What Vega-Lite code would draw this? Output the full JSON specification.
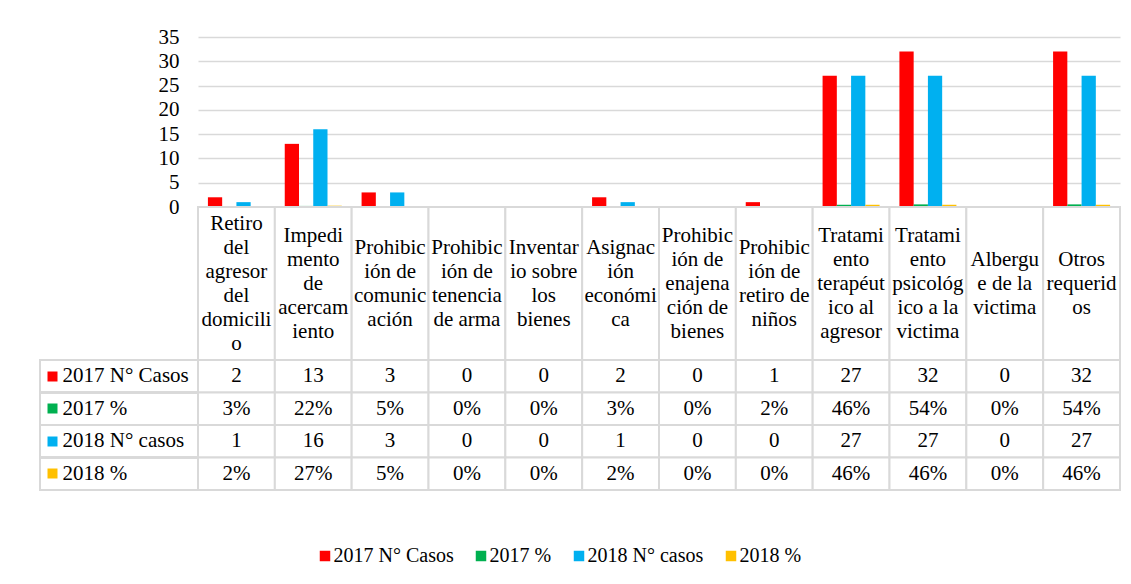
{
  "$schema": "https://vega.github.io/schema/vega-lite/v6.json",
  "padding": {"left": 39, "top": 26, "right": 5, "bottom": 5},
  "background": "white",
  "config": {
    "font": "Liberation Serif",
    "view": {"stroke": null},
    "axis": {"labelFont": "Liberation Serif"},
    "text": {"font": "Liberation Serif"},
    "legend": {"labelFont": "Liberation Serif", "labelFontSize": 20, "labelColor": "#000000"}
  },
  "datasets": {
    "datos": [
      {"categoria": "Retiro del agresor del domicilio", "serie": "2017 N° Casos", "valor": 2},
      {"categoria": "Impedimento de acercamiento", "serie": "2017 N° Casos", "valor": 13},
      {"categoria": "Prohibición de comunicación", "serie": "2017 N° Casos", "valor": 3},
      {"categoria": "Prohibición de tenencia de arma", "serie": "2017 N° Casos", "valor": 0},
      {"categoria": "Inventario sobre los bienes", "serie": "2017 N° Casos", "valor": 0},
      {"categoria": "Asignación económica", "serie": "2017 N° Casos", "valor": 2},
      {"categoria": "Prohibición de enajenación de bienes", "serie": "2017 N° Casos", "valor": 0},
      {"categoria": "Prohibición de retiro de niños", "serie": "2017 N° Casos", "valor": 1},
      {"categoria": "Tratamiento terapéutico al agresor", "serie": "2017 N° Casos", "valor": 27},
      {"categoria": "Tratamiento psicológico a la victima", "serie": "2017 N° Casos", "valor": 32},
      {"categoria": "Albergue de la victima", "serie": "2017 N° Casos", "valor": 0},
      {"categoria": "Otros requeridos", "serie": "2017 N° Casos", "valor": 32},
      {"categoria": "Retiro del agresor del domicilio", "serie": "2017 %", "valor": 0.03},
      {"categoria": "Impedimento de acercamiento", "serie": "2017 %", "valor": 0.22},
      {"categoria": "Prohibición de comunicación", "serie": "2017 %", "valor": 0.05},
      {"categoria": "Prohibición de tenencia de arma", "serie": "2017 %", "valor": 0},
      {"categoria": "Inventario sobre los bienes", "serie": "2017 %", "valor": 0},
      {"categoria": "Asignación económica", "serie": "2017 %", "valor": 0.03},
      {"categoria": "Prohibición de enajenación de bienes", "serie": "2017 %", "valor": 0},
      {"categoria": "Prohibición de retiro de niños", "serie": "2017 %", "valor": 0.02},
      {"categoria": "Tratamiento terapéutico al agresor", "serie": "2017 %", "valor": 0.46},
      {"categoria": "Tratamiento psicológico a la victima", "serie": "2017 %", "valor": 0.54},
      {"categoria": "Albergue de la victima", "serie": "2017 %", "valor": 0},
      {"categoria": "Otros requeridos", "serie": "2017 %", "valor": 0.54},
      {"categoria": "Retiro del agresor del domicilio", "serie": "2018 N° casos", "valor": 1},
      {"categoria": "Impedimento de acercamiento", "serie": "2018 N° casos", "valor": 16},
      {"categoria": "Prohibición de comunicación", "serie": "2018 N° casos", "valor": 3},
      {"categoria": "Prohibición de tenencia de arma", "serie": "2018 N° casos", "valor": 0},
      {"categoria": "Inventario sobre los bienes", "serie": "2018 N° casos", "valor": 0},
      {"categoria": "Asignación económica", "serie": "2018 N° casos", "valor": 1},
      {"categoria": "Prohibición de enajenación de bienes", "serie": "2018 N° casos", "valor": 0},
      {"categoria": "Prohibición de retiro de niños", "serie": "2018 N° casos", "valor": 0},
      {"categoria": "Tratamiento terapéutico al agresor", "serie": "2018 N° casos", "valor": 27},
      {"categoria": "Tratamiento psicológico a la victima", "serie": "2018 N° casos", "valor": 27},
      {"categoria": "Albergue de la victima", "serie": "2018 N° casos", "valor": 0},
      {"categoria": "Otros requeridos", "serie": "2018 N° casos", "valor": 27},
      {"categoria": "Retiro del agresor del domicilio", "serie": "2018 %", "valor": 0.02},
      {"categoria": "Impedimento de acercamiento", "serie": "2018 %", "valor": 0.27},
      {"categoria": "Prohibición de comunicación", "serie": "2018 %", "valor": 0.05},
      {"categoria": "Prohibición de tenencia de arma", "serie": "2018 %", "valor": 0},
      {"categoria": "Inventario sobre los bienes", "serie": "2018 %", "valor": 0},
      {"categoria": "Asignación económica", "serie": "2018 %", "valor": 0.02},
      {"categoria": "Prohibición de enajenación de bienes", "serie": "2018 %", "valor": 0},
      {"categoria": "Prohibición de retiro de niños", "serie": "2018 %", "valor": 0},
      {"categoria": "Tratamiento terapéutico al agresor", "serie": "2018 %", "valor": 0.46},
      {"categoria": "Tratamiento psicológico a la victima", "serie": "2018 %", "valor": 0.46},
      {"categoria": "Albergue de la victima", "serie": "2018 %", "valor": 0},
      {"categoria": "Otros requeridos", "serie": "2018 %", "valor": 0.46}
    ],
    "rotulos": [
      {"categoria": "Retiro del agresor del domicilio", "rotulo": "Retiro\ndel\nagresor\ndel\ndomicili\no"},
      {"categoria": "Impedimento de acercamiento", "rotulo": "Impedi\nmento\nde\nacercam\niento"},
      {"categoria": "Prohibición de comunicación", "rotulo": "Prohibic\nión de\ncomunic\nación"},
      {"categoria": "Prohibición de tenencia de arma", "rotulo": "Prohibic\nión de\ntenencia\nde arma"},
      {"categoria": "Inventario sobre los bienes", "rotulo": "Inventar\nio sobre\nlos\nbienes"},
      {"categoria": "Asignación económica", "rotulo": "Asignac\nión\neconómi\nca"},
      {"categoria": "Prohibición de enajenación de bienes", "rotulo": "Prohibic\nión de\nenajena\nción de\nbienes"},
      {"categoria": "Prohibición de retiro de niños", "rotulo": "Prohibic\nión de\nretiro de\nniños"},
      {"categoria": "Tratamiento terapéutico al agresor", "rotulo": "Tratami\nento\nterapéut\nico al\nagresor"},
      {"categoria": "Tratamiento psicológico a la victima", "rotulo": "Tratami\nento\npsicológ\nico a la\nvictima"},
      {"categoria": "Albergue de la victima", "rotulo": "Albergu\ne de la\nvictima"},
      {"categoria": "Otros requeridos", "rotulo": "Otros\nrequerid\nos"}
    ]
  },
  "columns": 2,
  "spacing": 0,
  "bounds": "flush",
  "align": "each",
  "resolve": {"scale": {"x": "independent", "y": "independent", "color": "shared"}},
  "concat": [
    {
      "width": 158, "height": 170,
      "data": {"values": []},
      "mark": "point"
    },
    {
      "width": 922, "height": 170,
      "data": {"name": "datos"},
      "mark": {"type": "bar"},
      "encoding": {
        "x": {"field": "categoria", "type": "nominal", "sort": null,
              "scale": {"paddingInner": 0.258, "paddingOuter": 0.129}, "axis": null},
        "xOffset": {"field": "serie", "type": "nominal", "sort": null},
        "y": {"field": "valor", "type": "quantitative",
              "scale": {"domain": [0, 35], "nice": false},
              "axis": {"values": [0, 5, 10, 15, 20, 25, 30, 35], "title": null, "domain": false, "ticks": false,
                       "labelPadding": 19, "labelFontSize": 21, "labelColor": "#000000",
                       "gridColor": "#d9d9d9", "gridWidth": 1.5}},
        "color": {"field": "serie", "type": "nominal", "sort": null,
                  "scale": {"domain": ["2017 N° Casos", "2017 %", "2018 N° casos", "2018 %"],
                            "range": ["#FF0000", "#00B050", "#00B0F0", "#FFC000"]},
                  "legend": {"orient": "none", "legendX": 275, "legendY": 509, "direction": "horizontal", "title": null,
                             "symbolType": "square", "symbolSize": 110, "symbolStrokeWidth": 0,
                             "columnPadding": 17, "labelOffset": -1.5}}
      }
    },
    {
      "width": 158, "height": 153,
      "data": {"values": []},
      "mark": "point"
    },
    {
      "width": 922, "height": 153,
      "data": {"name": "rotulos"},
      "layer": [
        {
          "mark": {"type": "rect", "fill": "white", "stroke": "#d9d9d9", "strokeWidth": 2},
          "encoding": {
            "x": {"field": "categoria", "type": "nominal", "sort": null,
                  "scale": {"paddingInner": 0, "paddingOuter": 0}, "axis": null}
          }
        },
        {
          "mark": {"type": "text", "fontSize": 21, "lineBreak": "\n", "lineHeight": 24,
                   "baseline": "middle", "align": "center", "color": "#000000",
                   "dy": {"expr": "-(length(split(datum.rotulo, '\\n')) - 1) * 12"}},
          "encoding": {
            "x": {"field": "categoria", "type": "nominal", "sort": null},
            "text": {"field": "rotulo", "type": "nominal"}
          }
        }
      ]
    },
    {
      "width": 158, "height": 130,
      "data": {"name": "datos"},
      "mark": {"type": "rect", "fill": null, "stroke": "#d9d9d9", "strokeWidth": 2},
      "encoding": {
        "y": {"field": "serie", "type": "nominal", "sort": null,
              "scale": {"paddingInner": 0, "paddingOuter": 0}, "axis": null}
      }
    },
    {
      "width": 922, "height": 130,
      "data": {"name": "datos"},
      "layer": [
        {
          "mark": {"type": "rect", "fill": "white", "stroke": "#d9d9d9", "strokeWidth": 2},
          "encoding": {
            "x": {"field": "categoria", "type": "nominal", "sort": null,
                  "scale": {"paddingInner": 0, "paddingOuter": 0}, "axis": null},
            "y": {"field": "serie", "type": "nominal", "sort": null,
                  "scale": {"paddingInner": 0, "paddingOuter": 0},
                  "axis": {"title": null, "orient": "left", "offset": 141, "domain": false, "grid": false,
                           "ticks": true, "tickSize": 10, "tickWidth": 10,
                           "tickColor": {"condition": [
                             {"test": "datum.value === '2017 N° Casos'", "value": "#FF0000"},
                             {"test": "datum.value === '2017 %'", "value": "#00B050"},
                             {"test": "datum.value === '2018 N° casos'", "value": "#00B0F0"}],
                             "value": "#FFC000"},
                           "labelAlign": "left", "labelBaseline": "middle", "labelPadding": -15,
                           "labelFontSize": 21, "labelColor": "#000000", "labelLimit": 300}}
          }
        },
        {
          "mark": {"type": "text", "fontSize": 21, "baseline": "middle", "align": "center", "color": "#000000"},
          "encoding": {
            "x": {"field": "categoria", "type": "nominal", "sort": null},
            "y": {"field": "serie", "type": "nominal", "sort": null},
            "text": {"condition": {"test": "indexof(datum.serie, '%') >= 0", "field": "valor", "type": "quantitative", "format": ".0%"},
                     "field": "valor", "type": "quantitative", "format": "d"}
          }
        }
      ]
    }
  ]
}
